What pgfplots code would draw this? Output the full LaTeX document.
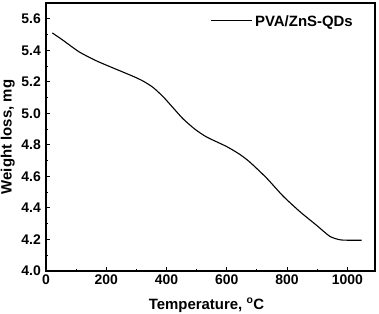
\documentclass[border=0pt]{standalone}
\usepackage{pgfplots}
\pgfplotsset{compat=1.18}
\usepackage{fontspec}
\setmainfont{Liberation Sans}
\begin{document}
\fontsize{14}{16}\selectfont\bfseries
\begin{tikzpicture}
\begin{axis}[
  scale only axis,
  width=329bp, height=268bp,
  xmin=0, xmax=1092, ymin=4.0, ymax=5.7,
  xtick={0,200,400,600,800,1000},
  xticklabels={0,200,400,600,800,1000},
  ytick={4.0,4.2,4.4,4.6,4.8,5.0,5.2,5.4,5.6},
  yticklabels={4.0,4.2,4.4,4.6,4.8,5.0,5.2,5.4,5.6},
  minor xtick={100,300,500,700,900},
  minor ytick={4.1,4.3,4.5,4.7,4.9,5.1,5.3,5.5},
  xtick pos=bottom, ytick pos=left,
  tick align=inside,
  major tick length=4bp, minor tick length=2.5bp,
  axis line style={line width=1.4bp},
  every tick/.style={line width=1bp, black},
  ticklabel style={font=\fontsize{14}{16}\selectfont\bfseries},
  xticklabel style={inner sep=0pt, anchor=north, yshift=-4bp},
  yticklabel style={inner sep=0pt, anchor=east, xshift=-5bp},
  xlabel={Temperature, \textsuperscript{o}C},
  ylabel={Weight loss, mg},
  xlabel style={font=\fontsize{15}{17}\selectfont\bfseries, at={(axis description cs:0.5,0)}, anchor=base, yshift=-38bp, xshift=-4bp, inner sep=0pt},
  ylabel style={font=\fontsize{15}{17}\selectfont\bfseries, at={(axis description cs:-0.0942,0.5)}, anchor=south, rotate=0, inner sep=0pt},
  legend style={draw=none, fill=none, at={(rel axis cs:1,1)}, anchor=north east, xshift=-22bp, yshift=-12bp, inner sep=0pt, font=\fontsize{15}{17}\selectfont\bfseries, nodes={inner sep=0pt, text depth=0pt}},
  legend image code/.code={\draw[#1] (0bp,0bp) -- (41bp,0bp);},
  legend cell align=left,
]
\addplot[black, line width=1.1bp, smooth, tension=0.4] coordinates {
(21,5.51) (54,5.467) (110,5.39) (165,5.335) (220,5.29) (289,5.235) (322,5.205) (355,5.165) (389,5.105) (422,5.035) (455,4.965) (494,4.90) (533,4.85) (599,4.79) (643,4.74) (677,4.69) (732,4.59) (787,4.475) (843,4.376) (898,4.29) (942,4.22) (976,4.198) (1010,4.195) (1048,4.195)
};
\addlegendentry{\,PVA/ZnS-QDs}
\end{axis}
\path[use as bounding box] ([xshift=-46bp,yshift=-43bp]current axis.south west) rectangle ([xshift=4bp,yshift=3bp]current axis.north east);
\end{tikzpicture}
\end{document}
